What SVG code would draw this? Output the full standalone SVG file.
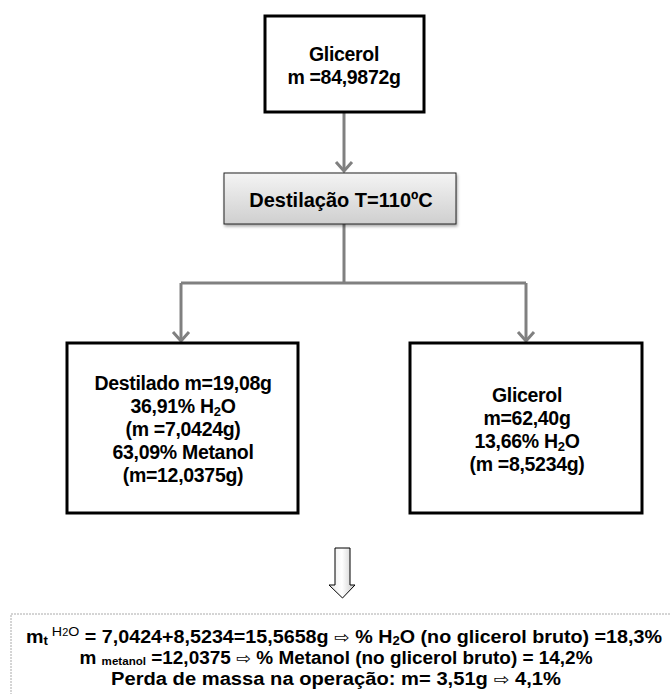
<svg xmlns="http://www.w3.org/2000/svg" width="671" height="694" viewBox="0 0 671 694">
<defs>
<style>
.t{font-family:"Liberation Sans",Arial,sans-serif;font-weight:bold;fill:#000;text-anchor:middle}
.n{font-size:19.5px;letter-spacing:-0.3px}
.b{font-size:18px}
.box{fill:#fff;stroke:#000;stroke-width:3}
.con{fill:none;stroke:#808080;stroke-width:3}
.hd{fill:none;stroke:#808080;stroke-width:3}
.ar{font-family:"DejaVu Sans",sans-serif;font-weight:normal;font-size:17px}
</style>
<linearGradient id="g" x1="0" y1="0" x2="0" y2="1">
<stop offset="0" stop-color="#f4f4f4"/>
<stop offset="1" stop-color="#cfcfcf"/>
</linearGradient>
<linearGradient id="ga" x1="0" y1="0" x2="1" y2="0">
<stop offset="0" stop-color="#e8e8e8"/>
<stop offset="0.5" stop-color="#ffffff"/>
<stop offset="1" stop-color="#c8c8c8"/>
</linearGradient>
<filter id="sh" x="-10%" y="-20%" width="120%" height="150%">
<feDropShadow dx="1" dy="2" stdDeviation="1.5" flood-color="#000" flood-opacity="0.35"/>
</filter>
</defs>
<rect width="671" height="694" fill="#fff"/>

<g id="connectors">
<path class="con" d="M344,112 V171"/>
<polyline class="hd" points="336,162 344,171 352,162"/>
<path class="con" d="M344,224 V283 M181,283 H526"/>
<path class="con" d="M181,283 V341"/>
<polyline class="hd" points="173,332 181,341 189,332"/>
<path class="con" d="M526,283 V341"/>
<polyline class="hd" points="518,332 526,341 534,332"/>
</g>

<g id="node-glicerol-top">
<rect class="box" x="265" y="16" width="159" height="96"/>
<text class="t n" x="344" y="61">Glicerol</text>
<text class="t n" x="344" y="84">m =84,9872g</text>
</g>

<g id="node-destilacao">
<rect x="224" y="173" width="232" height="51" fill="url(#g)" stroke="#222" stroke-width="1" filter="url(#sh)"/>
<text class="t" x="341" y="207" font-size="20">Destilação T=110ºC</text>
</g>

<g id="node-destilado">
<rect class="box" x="67" y="343" width="231" height="170"/>
<text class="t n" x="183" y="390">Destilado m=19,08g</text>
<text class="t n" x="183" y="413">36,91% H<tspan font-size="13" dy="3">2</tspan><tspan dy="-3">O</tspan></text>
<text class="t n" x="183" y="436">(m =7,0424g)</text>
<text class="t n" x="183" y="459">63,09% Metanol</text>
<text class="t n" x="183" y="482">(m=12,0375g)</text>
</g>

<g id="node-glicerol-right">
<rect class="box" x="410" y="343" width="232" height="170"/>
<text class="t n" x="527" y="402">Glicerol</text>
<text class="t n" x="527" y="425">m=62,40g</text>
<text class="t n" x="527" y="448">13,66% H<tspan font-size="13" dy="3">2</tspan><tspan dy="-3">O</tspan></text>
<text class="t n" x="527" y="471">(m =8,5234g)</text>
</g>

<g id="block-arrow">
<path d="M335,548 H350 V585 H355 L342.5,598 L329,585 H335 Z" fill="url(#ga)" stroke="#000" stroke-width="1"/>
</g>

<g id="node-summary">
<rect x="11" y="614" width="680" height="100" fill="#fff" stroke="#aaa" stroke-width="1" stroke-dasharray="2,1"/>
<text class="t b" x="344" y="643" textLength="636" lengthAdjust="spacingAndGlyphs">m<tspan font-size="12" dy="2">t</tspan><tspan font-size="13" font-weight="normal" dy="-9"> H<tspan font-size="10">2</tspan>O</tspan><tspan dy="7"> = 7,0424+8,5234=15,5658g <tspan class="ar">⇨</tspan> % H<tspan font-size="12" dy="2">2</tspan><tspan dy="-2">O (no glicerol bruto) =18,3%</tspan></tspan></text>
<text class="t b" x="336" y="664" textLength="513" lengthAdjust="spacingAndGlyphs">m <tspan font-size="11" dy="1">metanol</tspan><tspan dy="-1"> =12,0375 <tspan class="ar">⇨</tspan> % Metanol (no glicerol bruto) = 14,2%</tspan></text>
<text class="t b" x="336" y="685" textLength="450" lengthAdjust="spacingAndGlyphs">Perda de massa na operação: m= 3,51g <tspan class="ar">⇨</tspan> 4,1%</text>
</g>
</svg>
